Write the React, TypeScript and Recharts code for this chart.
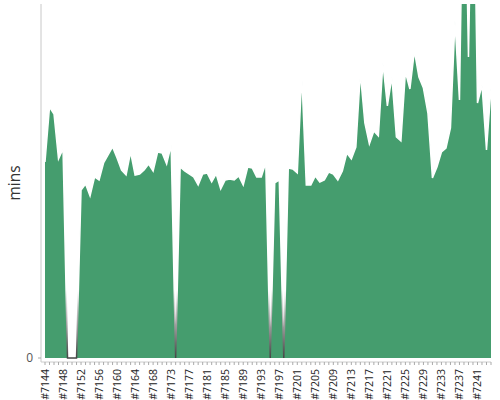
import React from 'react';
import { AreaChart, Area, XAxis, YAxis } from 'recharts';

const buildNumbers: number[] = [
  7144, 7145, 7146, 7147, 7148, 7149, 7150, 7151, 7152, 7153,
  7154, 7155, 7156, 7157, 7158, 7159, 7160, 7161, 7162, 7163,
  7164, 7165, 7166, 7167, 7168, 7169, 7170, 7172, 7173, 7174,
  7175, 7176, 7177, 7178, 7179, 7180, 7181, 7182, 7183, 7184,
  7185, 7186, 7187, 7188, 7189, 7190, 7191, 7192, 7193, 7194,
  7195, 7196, 7197, 7198, 7199, 7200, 7201, 7202, 7203, 7204,
  7205, 7206, 7207, 7208, 7209, 7210, 7211, 7212, 7213, 7214,
  7215, 7216, 7217, 7218, 7219, 7220, 7221, 7222, 7223, 7224,
  7225, 7226, 7227, 7228, 7229, 7230, 7231, 7232, 7233, 7234,
  7235, 7236, 7237, 7238, 7239, 7240, 7241, 7242, 7243, 7244,
];

const durations: number[] = [
  19.6, 25.1, 24.4, 19.9, 20.9, 0, 0, 0, 16.8, 17.4,
  16.2, 18.1, 17.8, 19.5, 20.3, 21.1, 20.0, 18.8, 18.3, 20.6,
  18.3, 18.4, 18.8, 19.4, 18.7, 20.6, 20.5, 19.4, 21.3, 0,
  19.1, 18.7, 18.4, 18.1, 17.3, 18.4, 18.5, 17.6, 18.4, 16.9,
  17.8, 17.9, 17.8, 18.2, 17.3, 19.1, 19.0, 18.1, 18.1, 19.5,
  0, 17.5, 17.8, 0, 19.0, 18.9, 18.5, 28.3, 17.3, 17.3,
  18.2, 17.6, 17.8, 18.6, 18.4, 17.8, 18.7, 20.5, 19.9, 21.1,
  28.5, 23.5, 21.4, 22.7, 22.2, 29.5, 25.2, 28.1, 22.1, 21.7,
  28.6, 26.9, 30.7, 28.1, 27.0, 24.5, 18.0, 19.1, 20.6, 21.0,
  23.0, 33.7, 25.8, 55.0, 30.1, 55.0, 25.5, 27.3, 20.8, 27.0,
];

const yTicks: number[] = [0];
const yDomain: [number, number] = [-0.4, 35.4];
const labelEvery = 4;

const data = buildNumbers.map((n, i) => ({ build: '#' + n, mins: durations[i] }));

const FONT = '"Open Sans", sans-serif';

const XTick = (props: any) => {
  const { x, y, payload, index } = props;
  if (index % labelEvery !== 0) return null;
  return (
    <text
      x={0}
      y={0}
      dy="0.35em"
      textAnchor="end"
      transform={`translate(${x},${y + 4}) rotate(-90)`}
      fontSize={10.5}
      fontFamily={FONT}
      fill="#222"
    >
      {payload.value}
    </text>
  );
};

export default function App() {
  return (
    <div style={{ position: 'absolute', left: 0, top: 0 }}>
      <AreaChart
        width={500}
        height={400}
        data={data}
        margin={{ top: 4, right: 9, bottom: 0, left: 0 }}
      >
        <defs>
          <linearGradient id="edgeStroke" gradientUnits="userSpaceOnUse" x1="0" y1="0" x2="0" y2="362">
            <stop offset="0" stopColor="#ffffff" />
            <stop offset="0.8" stopColor="#ffffff" />
            <stop offset="1" stopColor="#3a3a3a" />
          </linearGradient>
        </defs>
        <XAxis
          dataKey="build"
          interval={0}
          padding={{ left: 4, right: 0 }}
          height={38}
          tickSize={3}
          tickMargin={0}
          tick={<XTick />}
          axisLine={{ stroke: '#cccccc' }}
          tickLine={{ stroke: '#aaaaaa' }}
        />
        <YAxis
          width={41}
          domain={yDomain}
          ticks={yTicks}
          allowDataOverflow
          tickSize={3}
          tickMargin={5}
          tick={{ fontSize: 12, fill: '#555', fontFamily: FONT }}
          axisLine={{ stroke: '#c8c8c8' }}
          tickLine={{ stroke: '#aaaaaa' }}
          label={{
            value: 'mins',
            angle: -90,
            position: 'insideLeft',
            dx: 9,
            style: { textAnchor: 'middle', fontSize: 15.5, fill: '#333', fontFamily: FONT },
          }}
        />
        <Area
          type="linear"
          dataKey="mins"
          fill="#459d6e"
          fillOpacity={1}
          stroke="url(#edgeStroke)"
          strokeWidth={1.5}
          isAnimationActive={false}
          dot={false}
          activeDot={false}
        />
      </AreaChart>
    </div>
  );
}
